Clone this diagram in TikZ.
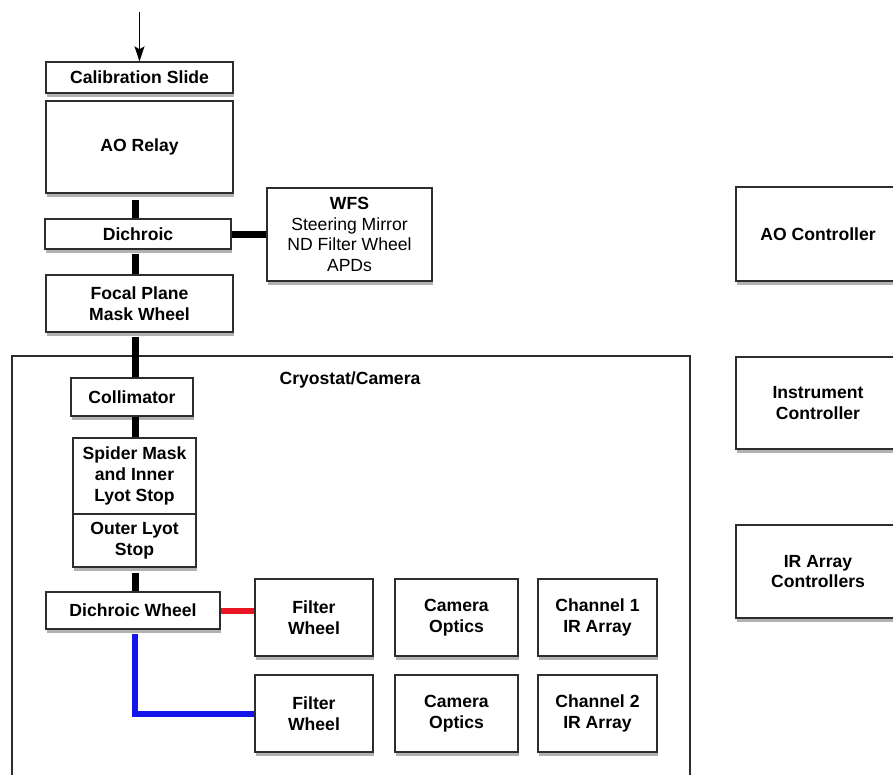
\documentclass[tikz,border=0pt]{standalone}
\usepackage{fontspec}
\setmainfont{Liberation Sans}
\usetikzlibrary{shadows,arrows.meta,calc}
\definecolor{edgegray}{RGB}{45,45,45}
\definecolor{linkred}{RGB}{232,22,34}
\definecolor{linkblue}{RGB}{20,20,235}
\tikzset{
  box/.style={draw=edgegray, line width=1.4pt, fill=white, align=center, inner sep=0pt,
    font=\fontsize{17.6}{20.8}\selectfont\bfseries,
    drop shadow={shadow xshift=0.6pt, shadow yshift=-3.5pt, opacity=0.3, fill=black}},
  link/.style={line width=7pt, black},
  redlink/.style={line width=6pt, linkred},
  bluelink/.style={line width=6pt, linkblue},
  inarrow/.style={line width=1.2pt, arrows={-Stealth[length=15pt, width=10pt, inset=3pt]}},
}
\newcommand{\bx}[6]{% name, x1,y1,x2,y2, text
  \node[box, minimum width={(#4-#2)*1pt}, minimum height={(#5-#3)*1pt}] (#1) at ({(#2+#4)/2},{(#3+#5)/2}) {#6};}
\begin{document}
\begin{tikzpicture}[x=1pt,y=-1pt]
\useasboundingbox (0,0) rectangle (893,774);
% cryostat
\node[box, minimum width=678pt, minimum height=444pt, drop shadow={shadow xshift=1pt, shadow yshift=-2pt, opacity=0.2, fill=black}] (cryo) at (351,578) {};
\node[font=\fontsize{17.6}{20.8}\selectfont\bfseries] (cryolabel) at (350,380) {Cryostat/Camera};
\coordinate (lx) at (135,0);
\coordinate (src) at (139.5,12);
% upper chain
\bx{cal}{46}{62}{233}{93}{Calibration Slide}
\bx{ao}{46}{101}{233}{193}{AO Relay}
\bx{dich}{45}{219}{231}{249}{Dichroic}
\bx{wfs}{267}{188}{432}{281}{WFS\\\mdseries Steering Mirror\\\mdseries ND Filter Wheel\\\mdseries APDs}
\bx{fpm}{46}{275}{233}{332}{Focal Plane\\Mask Wheel}
% cryostat contents
\bx{coll}{71}{378}{193}{416}{Collimator}
\bx{spider}{73}{438}{196}{514}{Spider Mask\\and Inner\\Lyot Stop}
\bx{outer}{73}{514}{196}{567}{Outer Lyot\\Stop}
\bx{dw}{46}{592}{220}{629}{Dichroic Wheel}
\bx{fwa}{255}{579}{373}{656}{Filter\\Wheel}
\bx{coa}{395}{579}{518}{656}{Camera\\Optics}
\bx{cha}{538}{579}{657}{656}{Channel 1\\IR Array}
\bx{fwb}{255}{675}{373}{752}{Filter\\Wheel}
\bx{cob}{395}{675}{518}{752}{Camera\\Optics}
\bx{chb}{538}{675}{657}{752}{Channel 2\\IR Array}
% controllers
\bx{aoc}{736}{187}{900}{281}{AO Controller}
\bx{ic}{736}{357}{900}{449}{Instrument\\Controller}
\bx{irc}{736}{525}{900}{618}{IR Array\\Controllers}
% connectors
\draw[inarrow] (src) -- (cal.north);
\draw[link] (ao.south -| lx) ++(0,6) -- (dich.north -| lx);
\draw[link] (dich.south -| lx) ++(0,4) -- (fpm.north -| lx);
\draw[link] (dich.east) -- (dich.east -| wfs.west);
\draw[link] (fpm.south -| lx) ++(0,4) -- (coll.north -| lx);
\draw[link] (coll.south -| lx) -- (spider.north -| lx);
\draw[link] (outer.south -| lx) ++(0,5) -- (dw.north -| lx);
\draw[redlink] (dw.east) -- (dw.east -| fwa.west);
\draw[bluelink] (dw.south -| lx) ++(0,4) |- (fwb.west);
\end{tikzpicture}
\end{document}
